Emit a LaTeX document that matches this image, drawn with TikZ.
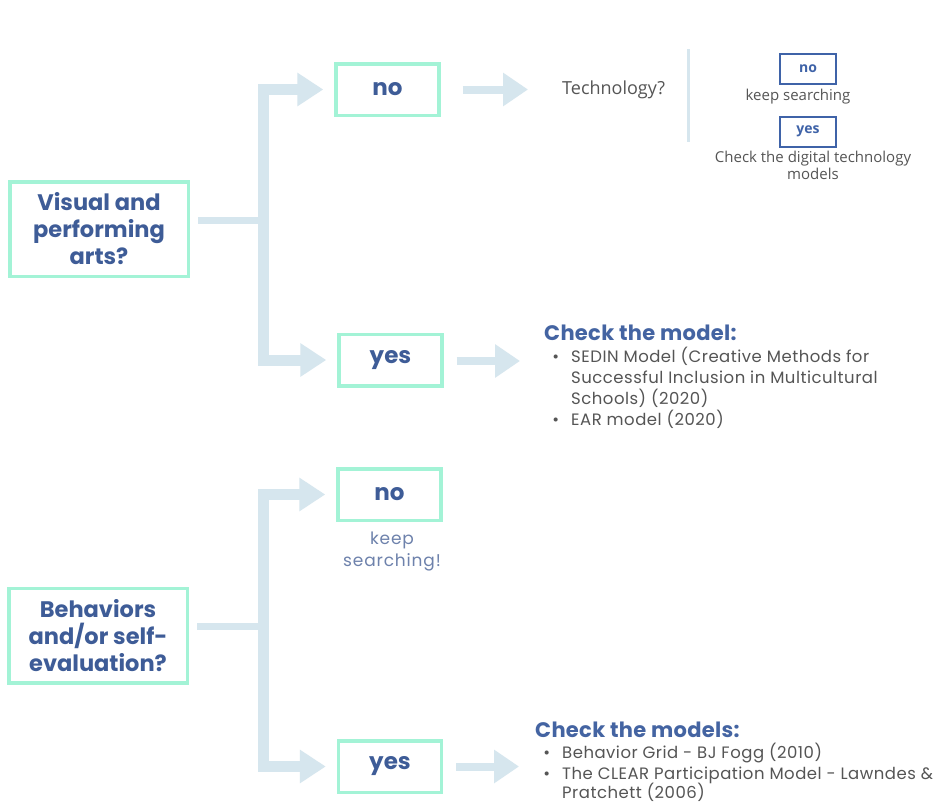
\documentclass[tikz,border=0pt]{standalone}
\usepackage{fontspec}
\usetikzlibrary{arrows.meta}
\newfontfamily\pop{Poppins}
\newfontfamily\popsp{Poppins}[LetterSpace=5]
\newfontfamily\popit{Poppins}[LetterSpace=3]
\newfontfamily\pophd{Poppins}[LetterSpace=1.5]
\newfontfamily\osans{Open Sans}

\definecolor{mint}{RGB}{163,243,214}
\definecolor{navy}{RGB}{62,92,151}
\definecolor{hblue}{RGB}{68,100,162}
\definecolor{barblue}{RGB}{214,230,238}
\definecolor{sblue}{RGB}{63,99,168}
\definecolor{tgray}{RGB}{85,85,85}
\definecolor{ksblue}{RGB}{110,130,172}

\begin{document}
\begin{tikzpicture}[x=1pt,y=-1pt,
  qbox/.style={draw=mint, line width=3.5pt, minimum width=178.5pt,
    minimum height=94.5pt, inner sep=0pt, align=center, text=navy,
    font=\pop\bfseries\fontsize{22.5}{27}\selectfont},
  abox/.style={draw=mint, line width=3.5pt, minimum width=103pt,
    minimum height=51.5pt, inner sep=0pt, text=navy,
    font=\pop\bfseries\fontsize{23}{27}\selectfont},
  sbox/.style={draw=sblue, line width=2pt, minimum width=56pt,
    minimum height=30pt, inner sep=0pt, text=sblue,
    font=\osans\bfseries\fontsize{14}{16}\selectfont},
  stem/.style={draw=barblue, line width=7pt},
  branch/.style={draw=barblue, line width=11pt,
    -{Triangle[width=32pt,length=26pt]}},
  fwd/.style={draw=barblue, line width=8pt,
    -{Triangle[width=32pt,length=25pt]}},
  note/.style={text=tgray, inner sep=0pt, align=center},
  head/.style={text=hblue, inner sep=0pt, anchor=base west,
    font=\pophd\bfseries\fontsize{21}{24}\selectfont},
  item/.style={text=tgray, inner sep=0pt, anchor=base west,
    font=\popit\fontsize{16.5}{20}\selectfont},
  ks/.style={text=ksblue, inner sep=0pt,
    font=\popsp\fontsize{17}{20}\selectfont}
]
\useasboundingbox[fill=white] (0,0) rectangle (943,803);
\newcommand\bul{\llap{\textbullet\hspace{12pt}}}

% ---------- first question ----------
\node[qbox] (q1) at (99,229) {Visual and\\performing\\arts?};
\coordinate (j1) at (263.5,220);
\node[abox] (no1) at (387.5,89.5) {no};
\node[abox] (yes1) at (390.5,360) {yes};

\draw[stem, shorten <=8pt] (q1.east |- j1) -- (j1);
\draw[branch, shorten >=11pt] (j1) |- (no1.west);
\draw[branch, shorten >=11pt] (j1) |- (yes1.west);

% technology sub-question
\node[note, anchor=west, font=\osans\fontsize{18}{22}\selectfont]
  (tech) at (562,89.5) {Technology?};
\draw[fwd, shorten <=22pt, shorten >=34pt] (no1.east) -- (tech.west);

\coordinate (d1) at (688,49);
\coordinate (d2) at (688,142);
\draw[barblue, line width=3pt] (d1) -- (d2);

\node[sbox] (sno) at (808,69) {no};
\node[note, font=\osans\fontsize{15}{17}\selectfont]
  (ks0) at (798,97) {keep searching};
\node[sbox] (syes) at (808,131.5) {yes};
\node[note, font=\osans\fontsize{15}{17.5}\selectfont, anchor=north]
  (dig) at (813,150.5) {Check the digital technology\\models};

% models for the arts
\coordinate (t1) at (520,361);
\draw[fwd, shorten <=13pt] (yes1.east |- t1) -- (t1);
\node[head] (h1) at (544,340) {Check the model:};
\node[item] (a1) at (571,362) {\bul SEDIN Model (Creative Methods for};
\node[item] (a2) at (571,383) {Successful Inclusion in Multicultural};
\node[item] (a3) at (571,404) {Schools) (2020)};
\node[item] (a4) at (571,425) {\bul EAR model (2020)};

% ---------- second question ----------
\node[qbox] (q2) at (98,635.5) {Behaviors\\and/or self-\\evaluation?};
\coordinate (j2) at (263.5,626);
\node[abox] (no2) at (389.5,494.5) {no};
\node[abox] (yes2) at (390,766.5) {yes};

\draw[stem, shorten <=8pt] (q2.east |- j2) -- (j2);
\draw[branch, shorten >=11pt] (j2) |- (no2.west);
\draw[branch, shorten >=11pt] (j2) |- (yes2.west);

\node[ks] (ks1) at (392,540) {keep};
\node[ks] (ks2) at (392,562) {searching!};

% models for behaviours
\coordinate (t2) at (519,766.5);
\draw[fwd, shorten <=13pt] (yes2.east |- t2) -- (t2);
\node[head] (h2) at (535,737.5) {Check the models:};
\node[item] (b1) at (562,758.5) {\bul Behavior Grid - BJ Fogg (2010)};
\node[item] (b2) at (562,779) {\bul The CLEAR Participation Model - Lawndes \&};
\node[item] (b3) at (562,798.5) {Pratchett (2006)};
\end{tikzpicture}
\end{document}
